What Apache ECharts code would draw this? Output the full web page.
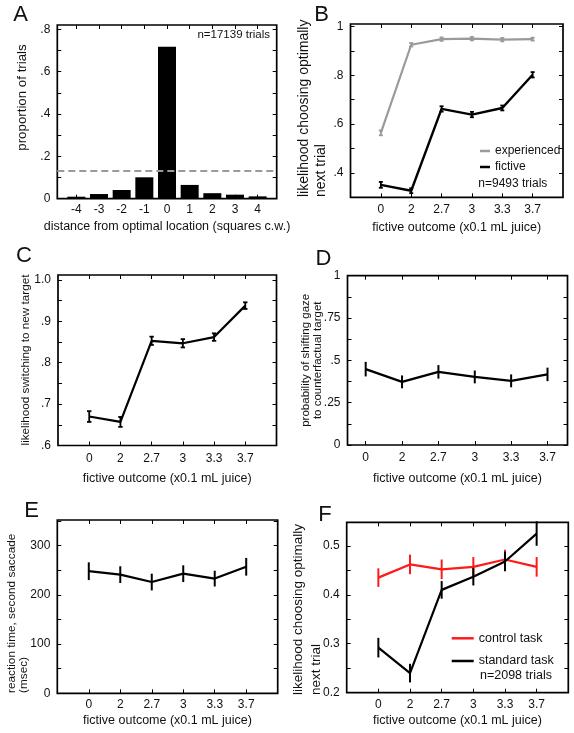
<!DOCTYPE html>
<html><head><meta charset="utf-8">
<script src="https://cdn.jsdelivr.net/npm/echarts@6/dist/echarts.min.js"></script>
<style>html,body{margin:0;padding:0;background:#fff}#c{width:574px;height:733px}</style>
</head><body><div id="c"></div>
<script>
// ---------- data ----------
const distCats = [-4, -3, -2, -1, 0, 1, 2, 3, 4];
const distProp = [0.0095, 0.022, 0.041, 0.101, 0.717, 0.065, 0.026, 0.019, 0.011];
const chanceLevel = 0.133;

const fictCats = ['0', '2', '2.7', '3', '3.3', '3.7'];

const bExperienced = [0.564, 0.925, 0.948, 0.950, 0.946, 0.948];
const bExperiencedErr = [0.010, 0.007, 0.007, 0.007, 0.007, 0.006];
const bFictive = [0.351, 0.327, 0.662, 0.639, 0.666, 0.802];
const bFictiveErr = [0.012, 0.010, 0.011, 0.011, 0.010, 0.011];

const cSwitch = [0.670, 0.657, 0.853, 0.847, 0.862, 0.938];
const cSwitchErr = [0.013, 0.012, 0.010, 0.010, 0.009, 0.008];

const dShift = [0.448, 0.373, 0.432, 0.402, 0.379, 0.417];
const dShiftErr = [0.043, 0.038, 0.040, 0.038, 0.038, 0.040];

const eRT = [248, 241, 226, 243, 233, 257];
const eRTErr = [18, 17, 17, 17, 16, 18];

const fControl = [0.435, 0.462, 0.452, 0.457, 0.472, 0.457];
const fControlErr = [0.019, 0.020, 0.020, 0.020, 0.020, 0.020];
const fStandard = [0.292, 0.240, 0.410, 0.437, 0.468, 0.525];
const fStandardErr = [0.020, 0.019, 0.018, 0.018, 0.020, 0.025];

// tick label lists
const yLabA = {v: [0, 0.2, 0.4, 0.6, 0.8], t: ['0', '.2', '.4', '.6', '.8']};
const yLabB = {v: [0.4, 0.6, 0.8, 1.0], t: ['.4', '.6', '.8', '1']};
const yLabC = {v: [0.6, 0.7, 0.8, 0.9, 1.0], t: ['.6', '.7', '.8', '.9', '1.0']};
const yLabD = {v: [0, 0.25, 0.5, 0.75, 1.0], t: ['0', '.25', '.5', '.75', '1']};
const yLabE = {v: [0, 100, 200, 300], t: ['0', '100', '200', '300']};
const yLabF = {v: [0.2, 0.3, 0.4, 0.5], t: ['0.2', '0.3', '0.4', '0.5']};

// ---------- build ----------
const FONT = '"Liberation Sans", Arial, Helvetica, sans-serif';
const TXT = '#111';
const grids = [], xAxes = [], yAxes = [], series = [];

function steps(a, b, s) { const r = []; for (let v = a; v <= b + 1e-9; v += s) r.push(+v.toFixed(4)); return r; }
function lookup(lab) {
  return function (v) {
    for (let i = 0; i < lab.v.length; i++) if (Math.abs(lab.v[i] - v) < 1e-6) return lab.t[i];
    return '';
  };
}

function panel(g, xc, yc) {
  const gi = grids.length;
  grids.push({left: g[0], top: g[1], width: g[2], height: g[3], show: true,
    borderColor: '#000', borderWidth: 1.7, backgroundColor: 'transparent'});
  const tick = {show: true, inside: true, length: 4, lineStyle: {color: '#000', width: 1}};
  const line = {show: false, onZero: false};
  const xi = xAxes.length, yi = yAxes.length;
  xAxes.push({type: 'value', gridIndex: gi, position: 'bottom', min: xc.min, max: xc.max,
    axisLine: line, splitLine: {show: false},
    axisTick: Object.assign({}, tick, {customValues: xc.ticks}),
    axisLabel: {customValues: xc.ticks, formatter: xc.fmt, color: TXT, fontSize: 12, fontFamily: FONT, margin: xc.margin},
    name: xc.name, nameLocation: 'middle', nameGap: xc.nameGap,
    nameTextStyle: {color: TXT, fontSize: 12.5, fontFamily: FONT}});
  xAxes.push({type: 'value', gridIndex: gi, position: 'top', min: xc.min, max: xc.max,
    axisLine: line, splitLine: {show: false}, axisLabel: {show: false},
    axisTick: Object.assign({}, tick, {customValues: xc.ticks})});
  yAxes.push({type: 'value', gridIndex: gi, position: 'left', min: yc.min, max: yc.max,
    axisLine: line, splitLine: {show: false},
    axisTick: Object.assign({}, tick, {customValues: yc.ticks}),
    axisLabel: {customValues: yc.lab.v, formatter: lookup(yc.lab), color: TXT, fontSize: 12, fontFamily: FONT, margin: 7}});
  yAxes.push({type: 'value', gridIndex: gi, position: 'right', min: yc.min, max: yc.max,
    axisLine: line, splitLine: {show: false}, axisLabel: {show: false},
    axisTick: Object.assign({}, tick, {customValues: yc.ticks})});
  return {xi: xi, yi: yi};
}

function lineSeries(ax, name, vals, color, width) {
  series.push({type: 'line', name: name, xAxisIndex: ax.xi, yAxisIndex: ax.yi,
    data: vals.map((v, i) => [i + 1, v]), symbol: 'none', animation: false, z: 4,
    lineStyle: {color: color, width: width}, itemStyle: {color: color}});
}
function errSeries(ax, vals, errs, color, width, cap) {
  series.push({type: 'custom', xAxisIndex: ax.xi, yAxisIndex: ax.yi, silent: true, animation: false, z: 5,
    data: vals.map((v, i) => [i + 1, v - errs[i], v + errs[i]]),
    encode: {x: 0, y: [1, 2]},
    renderItem: function (params, api) {
      const lo = api.coord([api.value(0), api.value(1)]);
      const hi = api.coord([api.value(0), api.value(2)]);
      const st = {stroke: color, lineWidth: width};
      const ch = [{type: 'line', shape: {x1: lo[0], y1: lo[1], x2: hi[0], y2: hi[1]}, style: st}];
      if (cap) {
        ch.push({type: 'line', shape: {x1: lo[0] - cap, y1: lo[1], x2: lo[0] + cap, y2: lo[1]}, style: st});
        ch.push({type: 'line', shape: {x1: hi[0] - cap, y1: hi[1], x2: hi[0] + cap, y2: hi[1]}, style: st});
      }
      return {type: 'group', children: ch};
    }});
}

const fictFmt = v => fictCats[Math.round(v) - 1] || '';
const fictTicks = fictCats.map((c, i) => i + 1);
const fictTitle = 'fictive outcome (x0.1 mL juice)';

// A
const axA = panel([57.3, 25, 219.4, 173.7],
  {min: -4.84, max: 4.84, ticks: distCats, fmt: v => String(v), margin: 5,
   name: 'distance from optimal location (squares c.w.)', nameGap: 21.5},
  {min: 0, max: 0.82, ticks: steps(0, 0.8, 0.1), lab: yLabA});
series.push({type: 'bar', xAxisIndex: axA.xi, yAxisIndex: axA.yi, barWidth: 18, animation: false,
  data: distCats.map((c, i) => [c, distProp[i]]), itemStyle: {color: '#000'},
  markLine: {symbol: 'none', silent: true, label: {show: false}, animation: false,
    lineStyle: {type: [7, 4], color: '#9a9a9a', width: 2}, data: [{yAxis: chanceLevel}]}});

// B
const axB = panel([350.5, 24, 212.5, 173.3],
  {min: 0, max: 7, ticks: fictTicks, fmt: fictFmt, margin: 6.5, name: fictTitle, nameGap: 23.5},
  {min: 0.3, max: 1.01, ticks: steps(0.3, 1.0, 0.1), lab: yLabB});
lineSeries(axB, 'experienced', bExperienced, '#9a9a9a', 2.2);
errSeries(axB, bExperienced, bExperiencedErr, '#9a9a9a', 1.8, 2);
lineSeries(axB, 'fictive', bFictive, '#000', 2.4);
errSeries(axB, bFictive, bFictiveErr, '#000', 1.8, 2);

// C
const axC = panel([58, 275, 218.5, 170.5],
  {min: 0, max: 7, ticks: fictTicks, fmt: fictFmt, margin: 7.5, name: fictTitle, nameGap: 26.5},
  {min: 0.6, max: 1.012, ticks: steps(0.6, 1.0, 0.05), lab: yLabC});
lineSeries(axC, 'switch', cSwitch, '#000', 2.2);
errSeries(axC, cSwitch, cSwitchErr, '#000', 1.8, 2.2);

// D
const axD = panel([347.5, 275.7, 220, 169.3],
  {min: 0.5, max: 6.55, ticks: fictTicks, fmt: fictFmt, margin: 6.3, name: fictTitle, nameGap: 27},
  {min: 0, max: 1.0, ticks: steps(0, 1, 0.125), lab: yLabD});
lineSeries(axD, 'shift', dShift, '#000', 2.2);
errSeries(axD, dShift, dShiftErr, '#000', 2, 0);

// E
const axE = panel([57.3, 520, 220.4, 173.3],
  {min: 0, max: 7, ticks: fictTicks, fmt: fictFmt, margin: 5, name: fictTitle, nameGap: 20.5},
  {min: 0, max: 352, ticks: steps(0, 350, 50), lab: yLabE});
lineSeries(axE, 'rt', eRT, '#000', 2.2);
errSeries(axE, eRT, eRTErr, '#000', 2, 0);

// F
const axF = panel([346.7, 522.3, 221.6, 170.4],
  {min: 0, max: 7, ticks: fictTicks, fmt: fictFmt, margin: 5.5, name: fictTitle, nameGap: 21},
  {min: 0.2, max: 0.548, ticks: steps(0.2, 0.55, 0.05), lab: yLabF});
lineSeries(axF, 'control task', fControl, '#ff1a1a', 2.2);
errSeries(axF, fControl, fControlErr, '#ff1a1a', 2, 0);
lineSeries(axF, 'standard task', fStandard, '#000', 2.2);
errSeries(axF, fStandard, fStandardErr, '#000', 2, 0);

function txt(x, y, s, size, opt) {
  opt = opt || {};
  return {type: 'text', x: x, y: y, rotation: opt.rot ? Math.PI / 2 : 0, silent: true,
    style: {text: s, fill: TXT, fontSize: size, fontFamily: FONT,
      align: opt.align || 'center', verticalAlign: opt.va || 'middle', lineHeight: opt.lh || size * 1.2}};
}

const graphic = [
  txt(20.5, 15, 'A', 22), txt(321.5, 15, 'B', 22), txt(24, 256, 'C', 22),
  txt(323.5, 258.5, 'D', 22), txt(31.5, 510.5, 'E', 22), txt(325, 515, 'F', 22),
  txt(22.5, 97.5, 'proportion of trials', 13.3, {rot: 1}),
  txt(296, 197, 'likelihood choosing optimally\nnext trial', 14, {rot: 1, align: 'left', va: 'top', lh: 17}),
  txt(26, 360, 'likelihood switching to new target', 11.7, {rot: 1}),
  txt(311.7, 360.3, 'probability of shifting gaze\nto counterfactual target', 11.5, {rot: 1, lh: 12.5}),
  txt(5.7, 693, 'reaction time, second saccade\n(msec)', 11.8, {rot: 1, align: 'left', va: 'top', lh: 12}),
  txt(290, 695, 'likelihood choosing optimally\nnext trial', 13.5, {rot: 1, align: 'left', va: 'top', lh: 17.5}),
  txt(270, 35, 'n=17139 trials', 11.5, {align: 'right'}),
  txt(478.3, 184, 'n=9493 trials', 12, {align: 'left'}),
  txt(480, 675.7, 'n=2098 trials', 12.5, {align: 'left'})
];

const chart = echarts.init(document.getElementById('c'));
chart.setOption({
  animation: false,
  backgroundColor: '#fff',
  grid: grids, xAxis: xAxes, yAxis: yAxes, series: series,
  legend: [
    {data: ['experienced', 'fictive'], left: 480, top: 144.5, orient: 'vertical', icon: 'rect',
     itemWidth: 10, itemHeight: 2.5, itemGap: 3, padding: 0, selectedMode: false,
     textStyle: {fontSize: 12, fontFamily: FONT, color: TXT, lineHeight: 13}},
    {data: ['control task', 'standard task'], left: 451.7, top: 631.8, orient: 'vertical', icon: 'rect',
     itemWidth: 22, itemHeight: 2.5, itemGap: 9.7, padding: 0, selectedMode: false,
     textStyle: {fontSize: 12.5, fontFamily: FONT, color: TXT, lineHeight: 13}}
  ],
  graphic: graphic
});
</script>
</body></html>
